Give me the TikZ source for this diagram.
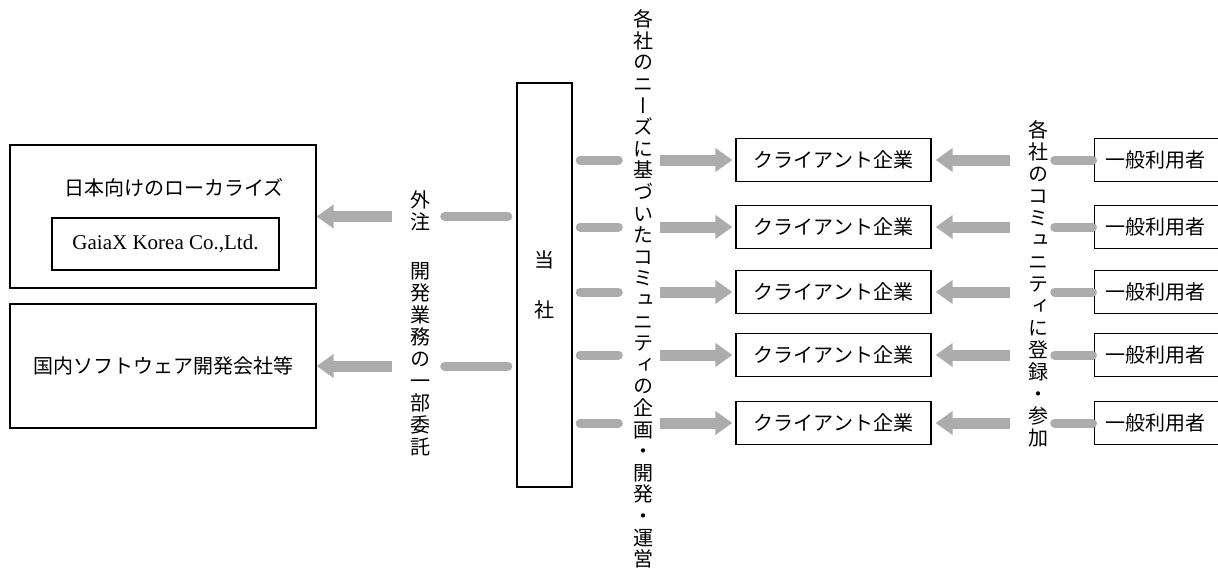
\documentclass[tikz,border=0pt]{standalone}
\usepackage{fontspec}
\setmainfont{Noto Sans CJK JP}
\newfontfamily\vjp[RawFeature=+vert]{Noto Sans CJK JP}
\newfontfamily\latinfont{Liberation Serif}
\usetikzlibrary{arrows.meta, positioning}
\definecolor{arrowgray}{RGB}{172,172,172}

\begin{document}
\begin{tikzpicture}[
    x=1pt, y=-1pt,
    box/.style={draw, line width=1.3pt, inner sep=0pt, font=\fontsize{20}{22}\selectfont},
    ubox/.style={box, anchor=west, inner xsep=11pt, text width=150pt, align=left, minimum height=43pt},
    vtext/.style={inner sep=0pt, align=center, font=\vjp\fontsize{20}{22}\selectfont},
    garrow/.style={-{Triangle[length=17pt, width=23pt]}, line width=11pt, draw=arrowgray},
    bar/.style={line width=9pt, line cap=round, draw=arrowgray}
  ]
    \useasboundingbox (0,0) rectangle (1218,576);
    \clip (0,0) rectangle (1218,576);

    % left side: outsourcing partners
    \node[box, minimum width=306pt, minimum height=143pt] (loc) at (163,216.5) {};
    \node[font=\fontsize{20}{22}\selectfont] (loctitle) at (174,188) {日本向けのローカライズ};
    \node[box, minimum width=227pt, minimum height=52pt, font=\latinfont\fontsize{21}{23}\selectfont] (gaiax) at (165.5,244) {GaiaX Korea Co.,Ltd.};
    \node[box, minimum width=306pt, minimum height=124pt] (dom) at (163,366) {国内ソフトウェア開発会社等};

    \node[vtext] (outsrc) at (420,211) {外\\注};
    \node[vtext] (itaku) at (420,359) {開\\発\\業\\務\\の\\一\\部\\委\\託};

    % company
    \node[box, minimum width=55pt, minimum height=404pt, font=\fontsize{20}{50}\selectfont, align=center] (tosha) at (544.5,285) {当\\社};

    \node[vtext, font=\vjp\fontsize{20}{21.6}\selectfont] (plan) at (643,289) {各\\社\\の\\ニ\\ー\\ズ\\に\\基\\づ\\い\\た\\コ\\ミ\\ュ\\ニ\\テ\\ィ\\の\\企\\画\\・\\開\\発\\・\\運\\営};
    \node[vtext] (reg) at (1038,284) {各\\社\\の\\コ\\ミ\\ュ\\ニ\\テ\\ィ\\に\\登\\録\\・\\参\\加};

    \draw[garrow, shorten <=18pt] (outsrc.west |- loc.east) -- (loc.east);
    \draw[garrow, shorten <=18pt] (itaku.west |- dom.east) -- (dom.east);
    \draw[bar, shorten <=8.5pt, shorten >=14.5pt] (tosha.west |- loc.east) -- (outsrc.east |- loc.east);
    \draw[bar, shorten <=8.5pt, shorten >=14.5pt] (tosha.west |- dom.east) -- (itaku.east |- dom.east);

    % clients and users
    \foreach \i/\y in {1/160,2/227,3/292,4/355,5/423} {
      \node[box, minimum width=195pt, minimum height=43pt] (cl\i) at (833.5,\y) {クライアント企業};
      \node[ubox] (us\i) at (1094,\y) {一般利用者};
      \draw[bar, shorten <=7.5pt, shorten >=14.5pt] (tosha.east |- cl\i) -- (plan.west |- cl\i);
      \draw[garrow, shorten <=7pt, shorten >=3pt] (plan.east |- cl\i) -- (cl\i.west);
      \draw[garrow, shorten <=18pt, shorten >=4pt] (reg.west |- cl\i) -- (cl\i.east);
      \draw[bar, shorten <=6.5pt, shorten >=1.5pt] (reg.east |- us\i) -- (us\i.west);
    }
  \end{tikzpicture}
\end{document}
